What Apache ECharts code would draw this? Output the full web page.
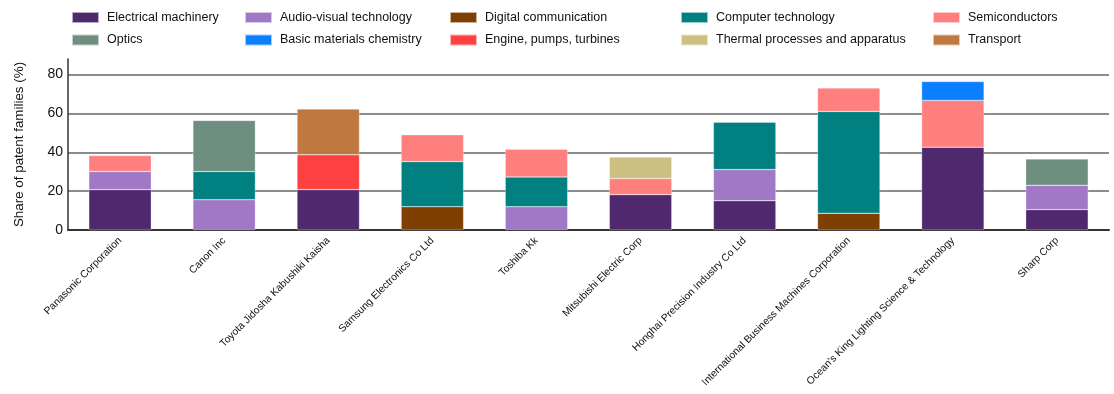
<!DOCTYPE html>
<html>
<head>
<meta charset="utf-8">
<script src="https://cdn.jsdelivr.net/npm/echarts@6/dist/echarts.min.js"></script>
<style>
  html, body { margin: 0; padding: 0; background: #fff; }
  #chartmain { width: 1114px; height: 394px; }
</style>
</head>
<body>
<div id="chartmain"></div>
<script>
var FONT = "'Liberation Sans', Arial, sans-serif";

var companies = ['Panasonic Corporation', 'Canon Inc', 'Toyota Jidosha Kabushiki Kaisha', 'Samsung Electronics Co Ltd',
    'Toshiba Kk', 'Mitsubishi Electric Corp', 'Honghai Precision Industry Co Ltd',
    'International Business Machines Corporation', "Ocean's King Lighting Science & Technology", 'Sharp Corp'];

// values, share of patent families (%)
var electrical = [20.8, null, 20.8, null, null, 18.2, 15.1, null, 42.6, 10.5];
var audioVisual = [9.3, 15.6, null, null, 12.0, null, 16.0, null, null, 12.5];
var digitalComm = [null, null, null, 12.0, null, null, null, 8.6, null, null];
var computerTech = [null, 14.5, null, 23.2, 15.3, null, 24.4, 52.4, null, null];
var semiconductors = [8.2, null, null, 13.8, 14.3, 8.3, null, 12.1, 24.1, null];
var optics = [null, 26.3, null, null, null, null, null, null, null, 13.6];
var basicChem = [null, null, null, null, null, null, null, null, 9.7, null];
var engines = [null, null, 17.9, null, null, null, null, null, null, null];
var thermal = [null, null, null, null, null, 11.1, null, null, null, null];
var transport = [null, null, 23.6, null, null, null, null, null, null, null];

var seriesNames = ['Electrical machinery', 'Audio-visual technology', 'Digital communication', 'Computer technology', 'Semiconductors',
    'Optics', 'Basic materials chemistry', 'Engine, pumps, turbines', 'Thermal processes and apparatus', 'Transport'];
var seriesData = [electrical, audioVisual, digitalComm, computerTech, semiconductors,
    optics, basicChem, engines, thermal, transport];
var colors = ['#4F286E', '#A078C6', '#7F3F00', '#008080', '#FF7F7F',
    '#6E8F80', '#0A7FFF', '#FF4040', '#CCC080', '#BF7840'];

var yTicks = [0, 20, 40, 60, 80];

var series = [];
for (var i = 0; i < seriesNames.length; i++) {
    series.push({
        name: seriesNames[i],
        type: 'bar',
        stack: 'total',
        barWidth: '60%',
        data: seriesData[i],
        itemStyle: { color: colors[i], borderColor: 'rgba(255,255,255,0.6)', borderWidth: 0.5 }
    });
}

// legend is laid out in 5 columns of 2 rows
var colLeft = [71, 244, 449, 680, 932];
var legends = [];
for (var c = 0; c < 5; c++) {
    legends.push({
        orient: 'vertical',
        left: colLeft[c],
        top: 11,
        icon: 'rect',
        itemWidth: 27,
        itemHeight: 11,
        itemGap: 9.5,
        padding: 0,
        selectedMode: false,
        data: [seriesNames[c], seriesNames[c + 5]],
        textStyle: { fontFamily: FONT, fontSize: 12.5, color: '#111', padding: [0, 0, 0, 3] }
    });
}

var option = {
    color: colors,
    animation: false,
    legend: legends,
    grid: { left: 68, right: 5, top: 59, bottom: 164, outerBoundsMode: 'none', containLabel: false },
    xAxis: {
        type: 'category',
        data: companies,
        axisLine: { lineStyle: { color: '#333', width: 2 } },
        axisTick: { show: false },
        axisLabel: {
            interval: 0,
            rotate: 45,
            margin: 9,
            fontFamily: FONT,
            fontSize: 10.3,
            color: '#111'
        }
    },
    yAxis: {
        type: 'value',
        min: yTicks[0],
        max: 88,
        interval: 20,
        name: 'Share of patent families (%)',
        nameLocation: 'middle',
        nameGap: 42,
        nameTextStyle: { fontFamily: FONT, fontSize: 13.4, color: '#111' },
        axisLine: { show: true, lineStyle: { color: '#333', width: 1.5 } },
        axisTick: { show: false },
        axisLabel: {
            margin: 5,
            showMaxLabel: false,
            fontFamily: FONT,
            fontSize: 14,
            color: '#111'
        },
        splitLine: { showMaxLine: false, lineStyle: { color: '#666', width: 1.5 } }
    },
    series: series
};

var myChart = echarts.init(document.getElementById('chartmain'));
myChart.setOption(option);
</script>
</body>
</html>
